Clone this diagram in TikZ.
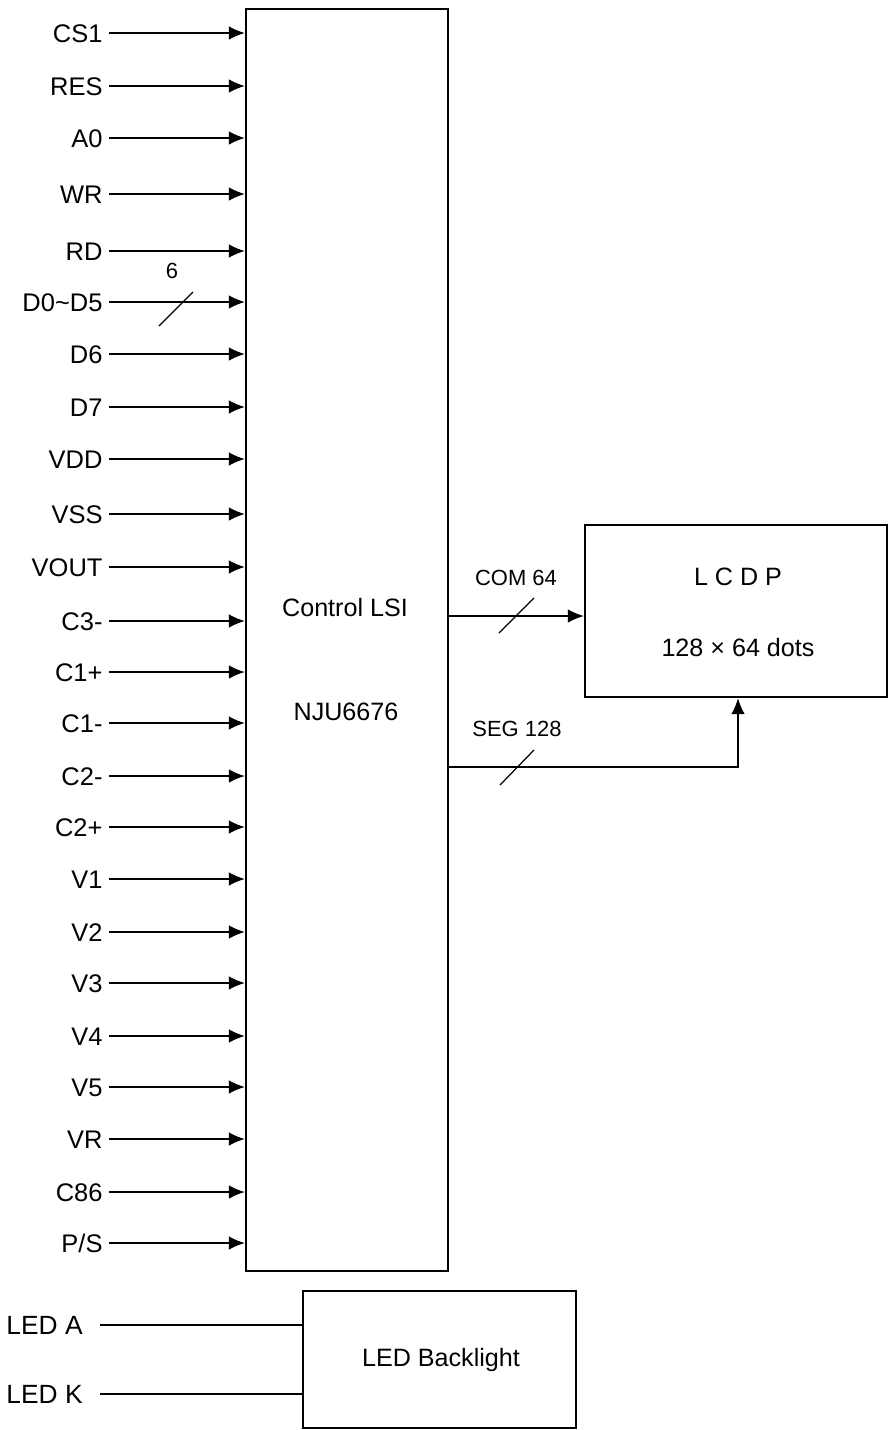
\documentclass[tikz,border=0pt]{standalone}
\usepackage{fontspec}
\setmainfont{Liberation Sans}
\usetikzlibrary{positioning,calc,arrows.meta}

\begin{document}
\begin{tikzpicture}[x=0.02cm,y=-0.02cm,
  pinlbl/.style={anchor=east,inner xsep=3.5pt,inner ysep=0pt,text height=10.4pt,text depth=0pt,font=\fontsize{14.5}{17}\selectfont},
  blktxt/.style={font=\fontsize{14.3}{17}\selectfont},
  buslbl/.style={font=\fontsize{12.5}{15}\selectfont},
  wire/.style={line width=0.7pt},
  feed/.style={wire,-{Latex[length=9pt,width=7.6pt]}},
  blk/.style={draw,line width=1.4pt,inner sep=0pt}]
\useasboundingbox (0,0) rectangle (889,1430);

% blocks
\node[blk,minimum width=4.04cm,minimum height=25.24cm] (lsi) at (347,640) {};
\node[blk,minimum width=6.04cm,minimum height=3.44cm] (lcd) at (736,611) {};
\node[blk,minimum width=5.46cm,minimum height=2.74cm] (led) at (439.5,1359.5) {};

\node[blktxt] (lsiname) at (345,608) {Control LSI};
\node[blktxt] (lsipart) at (346,712) {NJU6676};
\node[blktxt] (lcdname) at (738,577) {L C D P};
\node[blktxt] (lcddots) at (738,648) {128 × 64 dots};
\node[blktxt] (ledname) at (441,1360) {LED Backlight};

% input pins
\foreach \pin/\ypos [count=\k] in {CS1/33,RES/86,A0/138,WR/194,RD/251,D0\textasciitilde D5/302,D6/354,D7/407,
    VDD/459,VSS/514,VOUT/567,C3-/621,C1+/672,C1-/723,C2-/776,C2+/827,V1/879,V2/932,V3/983,
    V4/1036,V5/1087,VR/1139,C86/1192,{P/S}/1243}
{
  \node[pinlbl] (pin\k) at (109,\ypos) {\pin};
  \draw[feed] (pin\k.east) -- (pin\k.east -| lsi.west);
}

% data bus width
\node[buslbl] (buswidth) at (172,271) {6};
\draw[wire] (159,326) -- (193,292);

% outputs to the panel
\coordinate (comin) at ([yshift=-0.1cm]lcd.west);
\draw[feed] (lsi.east |- comin) -- (comin);
\node[buslbl] (comlbl) at (516,578) {COM 64};
\draw[wire] (499,633) -- (534,598);

\coordinate (segout) at (448,767);
\draw[feed] (segout) -| ([xshift=0.04cm]lcd.south);
\node[buslbl] (seglbl) at (517,729) {SEG 128};
\draw[wire] (500,785) -- (534,750);

% backlight
\node[pinlbl,inner xsep=0pt,font=\fontsize{15}{18}\selectfont] (leda) at (83,1325) {LED A};
\node[pinlbl,inner xsep=0pt,font=\fontsize{15}{18}\selectfont] (ledk) at (83,1394) {LED K};
\draw[wire,shorten <=0.34cm] (leda.east) -- (leda.east -| led.west);
\draw[wire,shorten <=0.34cm] (ledk.east) -- (ledk.east -| led.west);
\end{tikzpicture}
\end{document}
